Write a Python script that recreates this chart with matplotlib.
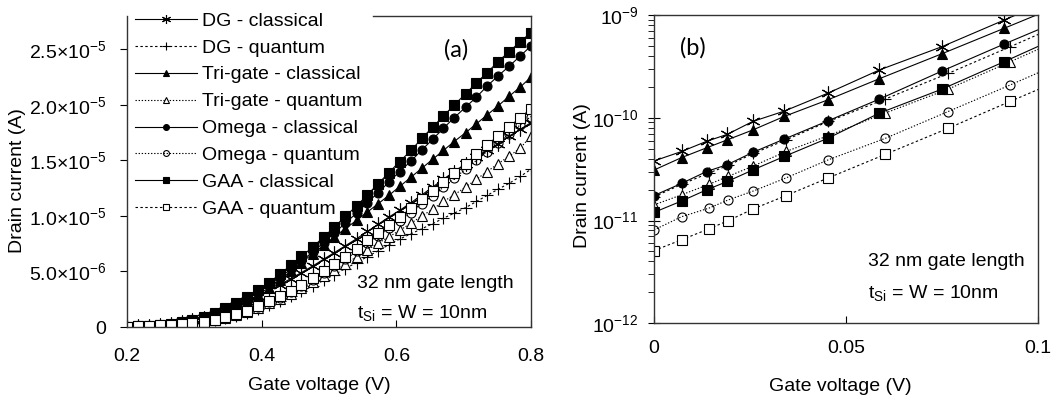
import matplotlib.pyplot as plt
import numpy as np

plt.rcParams['font.family'] = ['Liberation Sans', 'DejaVu Sans']
plt.rcParams['mathtext.fontset'] = 'custom'
plt.rcParams['mathtext.rm'] = 'Liberation Sans'
plt.rcParams['mathtext.it'] = 'Liberation Sans:italic'

# ---- panel (a): linear scale, current in units of 1e-6 A ----
vg_a = [0.200, 0.216, 0.232, 0.249, 0.265, 0.281, 0.297, 0.314, 0.330, 0.346,
        0.362, 0.378, 0.395, 0.411, 0.427, 0.443, 0.459, 0.476, 0.492, 0.508,
        0.524, 0.541, 0.557, 0.573, 0.589, 0.605, 0.622, 0.638, 0.654, 0.670,
        0.686, 0.703, 0.719, 0.735, 0.751, 0.768, 0.784, 0.800]

dg_cl_a = [0.03, 0.06, 0.11, 0.18, 0.28, 0.42, 0.60, 0.83, 1.10, 1.45,
           1.85, 2.30, 2.80, 3.30, 3.80, 4.35, 4.90, 5.50, 6.10, 6.70,
           7.30, 7.95, 8.60, 9.25, 9.90, 10.5, 11.2, 11.9, 12.6, 13.3,
           14.0, 14.7, 15.3, 15.9, 16.5, 17.2, 17.8, 18.4]
dg_q_a = [0.03, 0.05, 0.08, 0.12, 0.17, 0.24, 0.33, 0.44, 0.60, 0.80,
          1.03, 1.30, 1.62, 1.97, 2.35, 2.75, 3.20, 3.68, 4.20, 4.72,
          5.25, 5.80, 6.33, 6.86, 7.40, 7.92, 8.40, 8.85, 9.30, 9.80,
          10.25, 10.75, 11.3, 11.85, 12.4, 12.95, 13.55, 14.2]
tri_cl_a = [0.02, 0.05, 0.10, 0.17, 0.26, 0.38, 0.55, 0.78, 1.05, 1.40,
            1.82, 2.35, 2.90, 3.55, 4.25, 5.00, 5.80, 6.60, 7.35, 8.10,
            8.85, 9.60, 10.35, 11.1, 11.85, 12.65, 13.5, 14.3, 15.1, 15.9,
            16.7, 17.5, 18.3, 19.1, 19.9, 20.8, 21.6, 22.5]
tri_q_a = [0.04, 0.06, 0.09, 0.13, 0.18, 0.25, 0.34, 0.45, 0.62, 0.84,
           1.09, 1.37, 1.74, 2.15, 2.56, 3.01, 3.50, 4.03, 4.56, 5.12,
           5.68, 6.31, 6.94, 7.54, 8.12, 8.70, 9.35, 10.0, 10.6, 11.3,
           11.9, 12.6, 13.3, 14.0, 14.7, 15.4, 16.1, 17.2]
om_cl_a = [0.03, 0.06, 0.10, 0.18, 0.28, 0.42, 0.61, 0.86, 1.20, 1.60,
           2.04, 2.53, 3.10, 3.75, 4.45, 5.20, 5.95, 6.75, 7.60, 8.45,
           9.35, 10.25, 11.2, 12.1, 13.05, 14.0, 14.95, 15.95, 16.9, 17.9,
           18.85, 19.8, 20.7, 21.7, 22.6, 23.5, 24.4, 25.3]
om_q_a = [0.04, 0.06, 0.09, 0.13, 0.18, 0.25, 0.34, 0.45, 0.62, 0.85,
          1.10, 1.40, 1.78, 2.22, 2.65, 3.13, 3.66, 4.24, 4.82, 5.45,
          6.08, 6.80, 7.52, 8.20, 8.88, 9.55, 10.3, 11.1, 11.8, 12.6,
          13.4, 14.2, 15.0, 15.8, 16.6, 17.4, 18.2, 18.95]
gaa_cl_a = [0.03, 0.06, 0.11, 0.19, 0.30, 0.45, 0.65, 0.92, 1.30, 1.72,
            2.18, 2.70, 3.30, 4.00, 4.75, 5.55, 6.35, 7.20, 8.10, 9.00,
            9.95, 10.9, 11.9, 12.9, 13.9, 14.9, 15.9, 17.0, 18.0, 19.0,
            20.0, 21.0, 22.0, 22.9, 23.9, 24.8, 25.7, 26.5]
gaa_q_a = [0.04, 0.06, 0.09, 0.14, 0.19, 0.26, 0.35, 0.47, 0.65, 0.88,
           1.15, 1.45, 1.85, 2.30, 2.75, 3.25, 3.80, 4.40, 5.00, 5.65,
           6.30, 7.05, 7.80, 8.50, 9.20, 9.90, 10.7, 11.5, 12.25, 13.05,
           13.85, 14.7, 15.55, 16.4, 17.2, 18.05, 18.85, 19.65]

# ---- panel (b): log scale, current in A ----
vg_b_cl = [0, 0.0072, 0.0137, 0.0191, 0.0257, 0.0339, 0.0452, 0.0587, 0.0750, 0.0911, 0.105]
vg_b_q = [0, 0.0072, 0.0143, 0.0194, 0.0259, 0.0344, 0.0454, 0.0602, 0.0766, 0.0927, 0.105]

dg_cl_b = [3.8e-11, 4.7e-11, 5.9e-11, 6.9e-11, 9.2e-11, 1.16e-10, 1.73e-10, 2.92e-10, 4.92e-10, 8.9e-10, 1.49e-9]
dg_q_b = [1.7e-11, 2.25e-11, 2.9e-11, 3.45e-11, 4.5e-11, 6.1e-11, 9.2e-11, 1.52e-10, 2.7e-10, 4.9e-10, 7.8e-10]
tri_cl_b = [3.1e-11, 4.1e-11, 5.1e-11, 6.1e-11, 7.6e-11, 1.03e-10, 1.49e-10, 2.4e-10, 4.2e-10, 7.4e-10, 1.21e-9]
tri_q_b = [1.42e-11, 1.78e-11, 2.25e-11, 2.7e-11, 3.4e-11, 4.7e-11, 6.7e-11, 1.11e-10, 1.9e-10, 3.5e-10, 5.6e-10]
om_cl_b = [1.75e-11, 2.3e-11, 3.0e-11, 3.5e-11, 4.6e-11, 6.2e-11, 9.3e-11, 1.52e-10, 2.85e-10, 5.2e-10, 8.6e-10]
om_q_b = [8.1e-12, 1.09e-11, 1.32e-11, 1.59e-11, 1.94e-11, 2.6e-11, 3.9e-11, 6.3e-11, 1.15e-10, 2.08e-10, 3.3e-10]
gaa_cl_b = [1.2e-11, 1.55e-11, 1.99e-11, 2.4e-11, 3.1e-11, 4.2e-11, 6.3e-11, 1.11e-10, 1.9e-10, 3.5e-10, 6.0e-10]
gaa_q_b = [5.1e-12, 6.5e-12, 8.3e-12, 1.0e-11, 1.3e-11, 1.75e-11, 2.6e-11, 4.4e-11, 7.9e-11, 1.44e-10, 2.26e-10]

labels = ['DG - classical', 'DG - quantum', 'Tri-gate - classical', 'Tri-gate - quantum',
          'Omega - classical', 'Omega - quantum', 'GAA - classical', 'GAA - quantum']

fine_dash = (0, (2.2, 2.2))
dots = (0, (1.2, 1.6))
styles = [
    dict(ls='-', marker=(6, 2, 0), ms=10, mfc='k'),
    dict(ls=fine_dash, marker='+', ms=9, mfc='k'),
    dict(ls='-', marker='^', ms=7, mfc='k'),
    dict(ls=dots, marker='^', ms=7, mfc='white'),
    dict(ls='-', marker='o', ms=6.5, mfc='k'),
    dict(ls=dots, marker='o', ms=6.5, mfc='none'),
    dict(ls='-', marker='s', ms=6.5, mfc='k'),
    dict(ls=fine_dash, marker='s', ms=6.5, mfc='white'),
]

series_a = [dg_cl_a, dg_q_a, tri_cl_a, tri_q_a, om_cl_a, om_q_a, gaa_cl_a, gaa_q_a]
series_b = [dg_cl_b, dg_q_b, tri_cl_b, tri_q_b, om_cl_b, om_q_b, gaa_cl_b, gaa_q_b]
xb = [vg_b_cl, vg_b_q, vg_b_cl, vg_b_q, vg_b_cl, vg_b_q, vg_b_cl, vg_b_q]

fig = plt.figure(figsize=(10.58, 4.01), dpi=100)
ax1 = fig.add_axes([127/1058, 1-327/401, 404/1058, 311/401])
ax2 = fig.add_axes([654/1058, 1-323.3/401, 384/1058, 308.3/401])

for lab, st, ya in zip(labels, styles, series_a):
    ax1.plot(vg_a, np.array(ya)*1e-6, color='k', lw=0.8, mec='k', mew=0.8,
             label=lab, **st)
for lab, st, xx, yb in zip(labels, styles, xb, series_b):
    ax2.plot(xx, yb, color='k', lw=0.8, mec='k', mew=0.8, label=lab, **st)

# panel (a) axes
ax1.set_xlim(0.2, 0.8)
ax1.set_ylim(0, 2.8e-5)
ax1.set_xticks([0.2, 0.4, 0.6, 0.8])
ax1.set_xticklabels(['0.2', '0.4', '0.6', '0.8'])
ax1.set_yticks([0, 5e-6, 1e-5, 1.5e-5, 2e-5, 2.5e-5])
ax1.set_yticklabels(['0', r'$\mathregular{5.0{\times}10^{-6}}$', r'$\mathregular{1.0{\times}10^{-5}}$',
                     r'$\mathregular{1.5{\times}10^{-5}}$', r'$\mathregular{2.0{\times}10^{-5}}$',
                     r'$\mathregular{2.5{\times}10^{-5}}$'])
ax1.tick_params(axis='x', direction='in', length=5, pad=15, labelsize=14)
ax1.tick_params(axis='y', direction='out', length=5, pad=10, labelsize=14)
ax1.set_xlabel('Gate voltage (V)', fontsize=14)
ax1.set_ylabel('Drain current (A)', fontsize=14)
ax1.xaxis.set_label_coords(0.475, -0.162)
ax1.yaxis.set_label_coords(-0.25, 0.47)
# top frame line only shows to the right of the legend
ax1.spines['top'].set_bounds(0.5655, 0.8)

leg = ax1.legend(loc='upper left', bbox_to_anchor=(0.0, 1.038), borderaxespad=0,
                 borderpad=0.4, fontsize=14, handlelength=3.2, handletextpad=0.25,
                 labelspacing=0.48, markerscale=0.65, frameon=False)

ax1.text(0.815, 0.89, '(a)', transform=ax1.transAxes, fontsize=17,
         family=['Lato', 'DejaVu Sans'], ha='center', va='center')
ax1.text(0.569, 0.14, '32 nm gate length', transform=ax1.transAxes,
         fontsize=14, ha='left', va='center')
ax1.text(0.569, 0.045, r'$\mathregular{t_{Si}}$ = W = 10nm', transform=ax1.transAxes,
         fontsize=14, ha='left', va='center')

# panel (b) axes
ax2.set_yscale('log')
ax2.set_xlim(0, 0.1)
ax2.set_ylim(1e-12, 1e-9)
ax2.set_xticks([0, 0.05, 0.1])
ax2.set_xticklabels(['0', '0.05', '0.1'])
ax2.tick_params(axis='x', direction='in', length=5, pad=12, labelsize=14)
ax2.tick_params(axis='y', which='major', direction='inout', length=8, pad=7, labelsize=14)
ax2.tick_params(axis='y', which='minor', direction='out', length=4)
ax2.set_xlabel('Gate voltage (V)', fontsize=14)
ax2.set_ylabel('Drain current (A)', fontsize=14)
ax2.xaxis.set_label_coords(0.484, -0.178)
ax2.yaxis.set_label_coords(-0.163, 0.48)

ax2.text(0.102, 0.893, '(b)', transform=ax2.transAxes, fontsize=17,
         family=['Lato', 'DejaVu Sans'], ha='center', va='center')
ax2.text(0.557, 0.199, '32 nm gate length', transform=ax2.transAxes,
         fontsize=14, ha='left', va='center')
ax2.text(0.557, 0.098, r'$\mathregular{t_{Si}}$ = W = 10nm', transform=ax2.transAxes,
         fontsize=14, ha='left', va='center')

for ax in (ax1, ax2):
    for sp in ax.spines.values():
        sp.set_linewidth(1.0)
        sp.set_color('#333333')

fig.savefig('out.png', dpi=100)
